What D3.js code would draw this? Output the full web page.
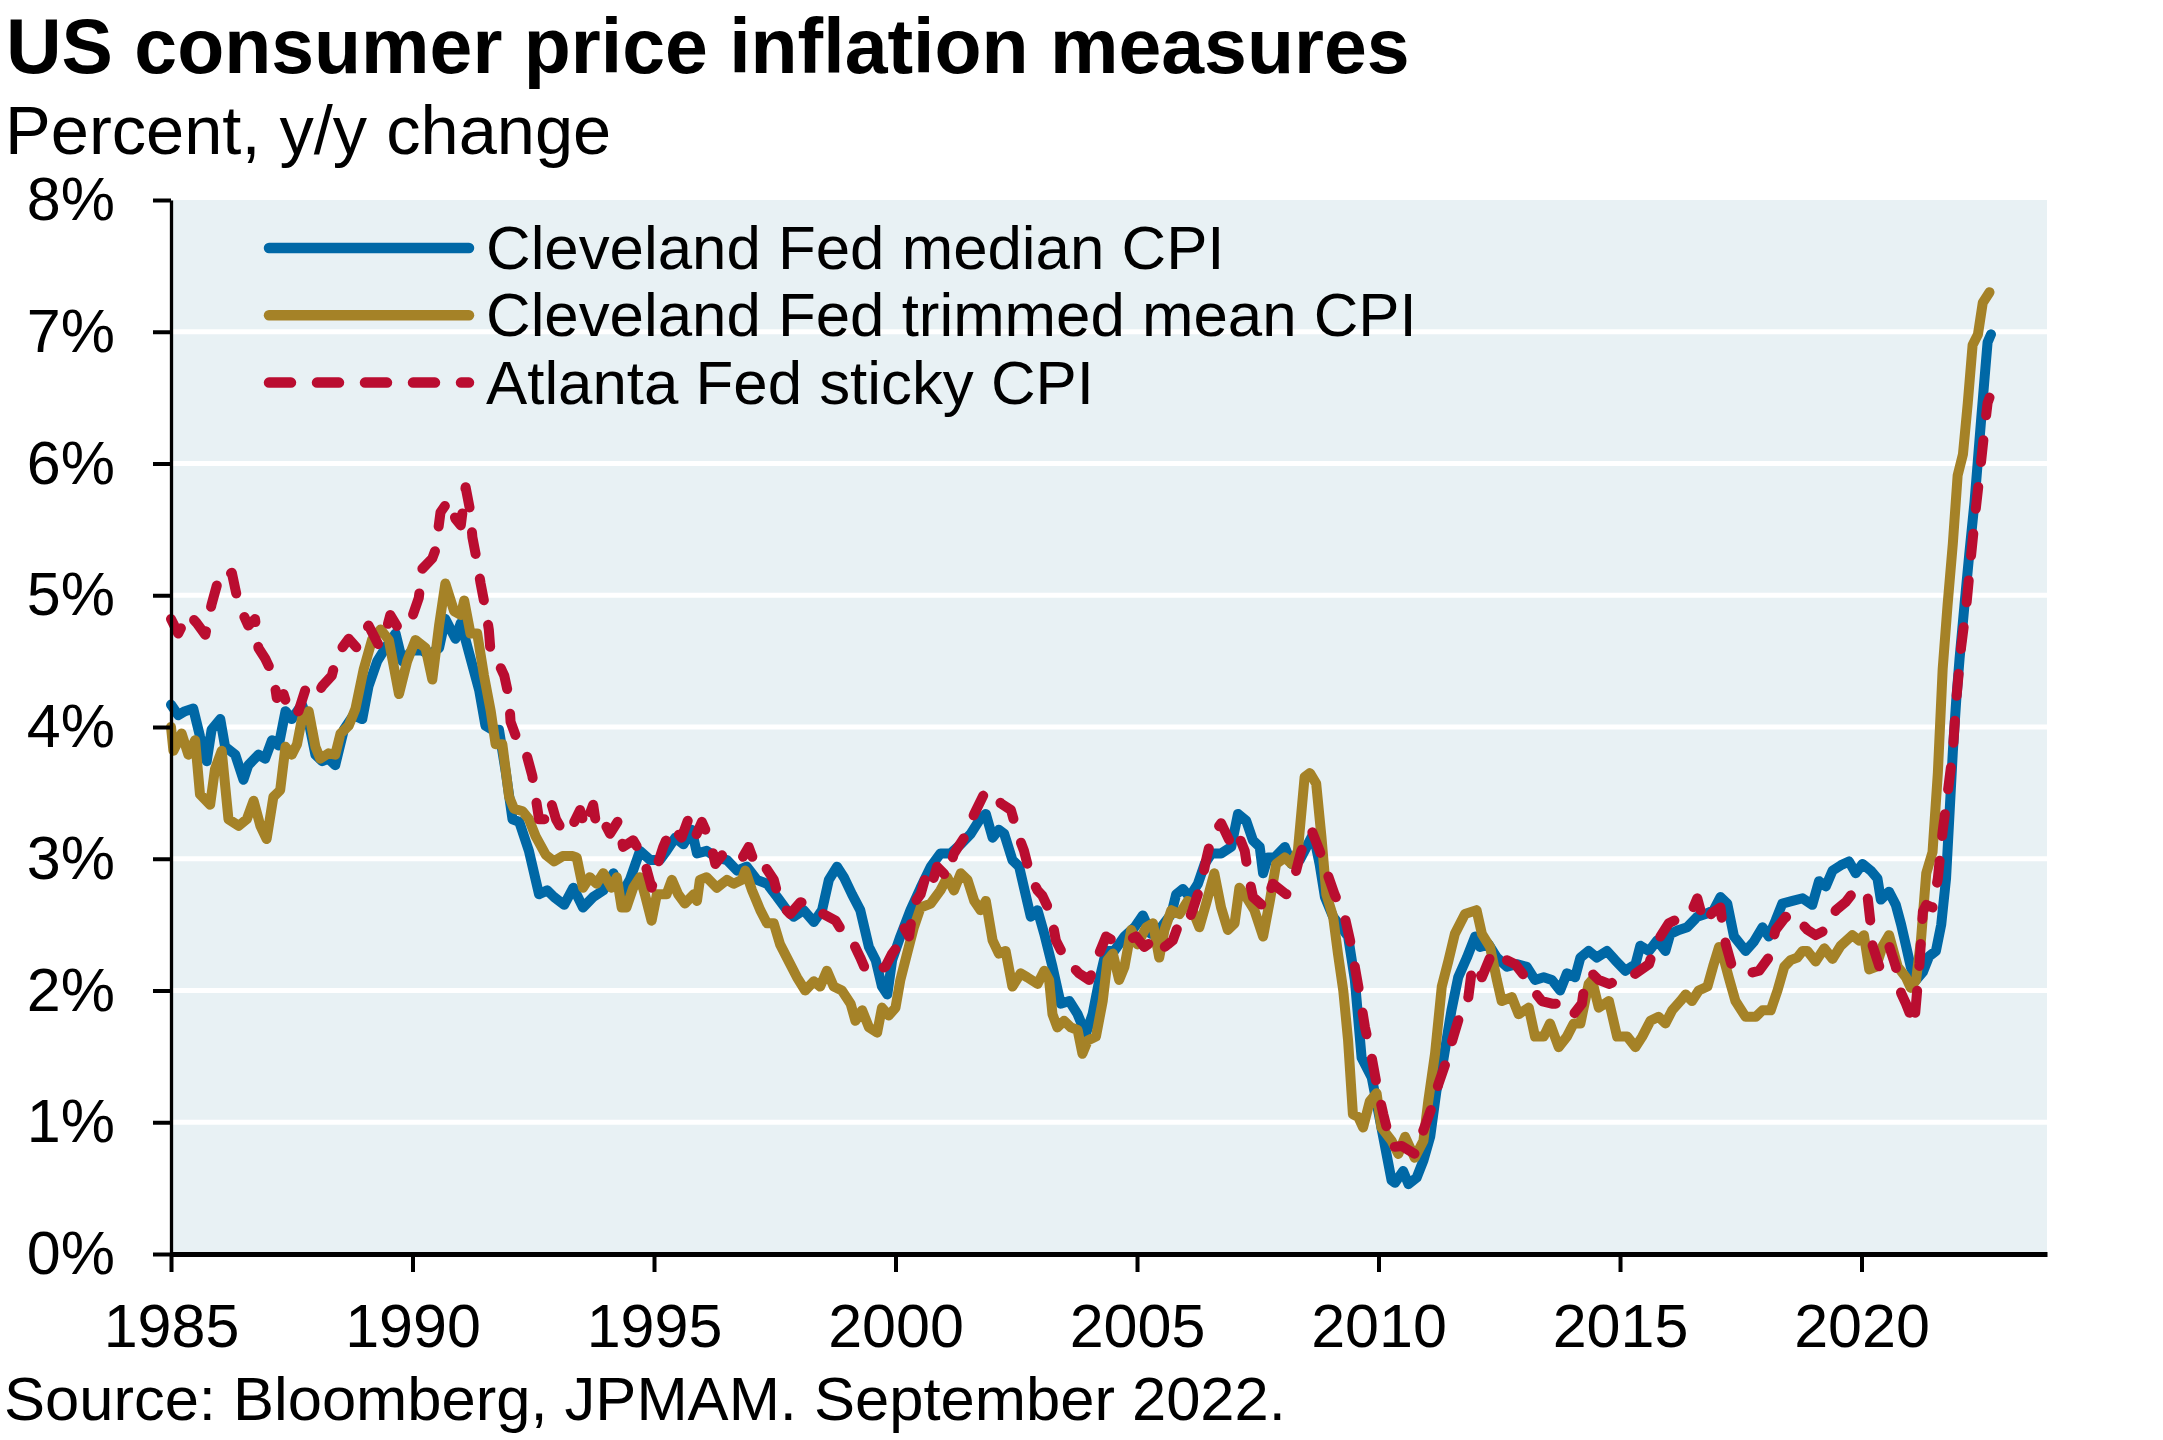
<!DOCTYPE html>
<html>
<head>
<meta charset="utf-8">
<script src="https://d3js.org/d3.v7.min.js"></script>
<style>
  body { margin: 0; background: #ffffff; }
  svg { display: block; font-family: "Liberation Sans", Arial, sans-serif; }
</style>
</head>
<body>
<script>
const svgWidth = 2163
const svgHeight = 1440

const margin = {
    top: 200,
    right: 116,
    bottom: 186,
    left: 171
  }

const chartWidth = svgWidth - margin.left - margin.right
const chartHeight = svgHeight - margin.top - margin.bottom

// values, [decimal year, percent y/y]
const medianCPI = [
  [1985.00,4.17],[1985.15,4.09],[1985.29,4.12],[1985.46,4.14],[1985.60,3.93],[1985.74,3.74],[1985.84,3.98],[1986.02,4.06],
  [1986.12,3.85],[1986.33,3.79],[1986.50,3.60],[1986.60,3.71],[1986.81,3.79],[1986.95,3.76],[1987.09,3.90],[1987.23,3.86],
  [1987.37,4.12],[1987.50,4.06],[1987.71,4.17],[1987.85,4.04],[1987.99,3.79],[1988.13,3.74],[1988.26,3.76],[1988.40,3.71],
  [1988.58,3.98],[1988.78,4.09],[1988.96,4.06],[1989.09,4.31],[1989.27,4.50],[1989.44,4.60],[1989.65,4.71],[1989.79,4.50],
  [1989.99,4.58],[1990.20,4.58],[1990.34,4.55],[1990.55,4.60],[1990.68,4.82],[1990.89,4.67],[1991.00,4.79],[1991.10,4.66],
  [1991.24,4.47],[1991.38,4.28],[1991.51,4.01],[1991.65,3.98],[1991.79,3.98],[1991.93,3.66],[1992.07,3.30],[1992.21,3.28],
  [1992.41,3.06],[1992.62,2.73],[1992.79,2.76],[1992.93,2.71],[1993.14,2.65],[1993.33,2.78],[1993.53,2.63],[1993.74,2.71],
  [1993.95,2.76],[1994.16,2.89],[1994.33,2.73],[1994.50,2.84],[1994.71,3.06],[1994.92,2.99],[1995.12,2.99],[1995.26,3.06],
  [1995.44,3.16],[1995.61,3.11],[1995.78,3.22],[1995.89,3.04],[1996.09,3.06],[1996.30,3.01],[1996.51,2.99],[1996.72,2.91],
  [1996.92,2.94],[1997.13,2.84],[1997.34,2.81],[1997.55,2.71],[1997.75,2.61],[1997.89,2.56],[1998.10,2.61],[1998.31,2.52],
  [1998.48,2.61],[1998.62,2.84],[1998.79,2.94],[1998.93,2.86],[1999.10,2.73],[1999.27,2.61],[1999.45,2.33],[1999.59,2.23],
  [1999.72,2.03],[1999.83,1.97],[1999.93,2.23],[2000.10,2.41],[2000.31,2.61],[2000.52,2.78],[2000.73,2.94],[2000.93,3.04],
  [2001.14,3.04],[2001.35,3.11],[2001.56,3.19],[2001.73,3.29],[2001.87,3.34],[2002.01,3.16],[2002.14,3.22],[2002.25,3.19],
  [2002.42,2.99],[2002.56,2.94],[2002.66,2.78],[2002.80,2.56],[2002.94,2.61],[2003.08,2.43],[2003.25,2.18],[2003.42,1.90],
  [2003.60,1.92],[2003.77,1.82],[2003.94,1.67],[2004.08,1.82],[2004.22,2.08],[2004.36,2.30],[2004.53,2.30],[2004.74,2.41],
  [2004.95,2.48],[2005.12,2.57],[2005.29,2.43],[2005.50,2.48],[2005.71,2.58],[2005.81,2.73],[2005.95,2.77],[2006.09,2.71],
  [2006.26,2.81],[2006.40,2.96],[2006.54,3.04],[2006.74,3.04],[2006.95,3.09],[2007.09,3.34],[2007.26,3.29],[2007.40,3.14],
  [2007.54,3.09],[2007.61,2.89],[2007.71,3.01],[2007.85,3.01],[2008.06,3.09],[2008.20,2.96],[2008.37,2.99],[2008.51,3.09],
  [2008.65,3.19],[2008.78,2.96],[2008.89,2.71],[2009.06,2.56],[2009.23,2.48],[2009.37,2.41],[2009.51,2.08],[2009.65,1.49],
  [2009.86,1.34],[2010.06,0.96],[2010.27,0.56],[2010.34,0.54],[2010.51,0.63],[2010.62,0.53],[2010.79,0.58],[2010.93,0.71],
  [2011.07,0.89],[2011.20,1.24],[2011.34,1.47],[2011.51,1.85],[2011.65,2.10],[2011.83,2.25],[2012.00,2.41],[2012.10,2.33],
  [2012.28,2.35],[2012.45,2.25],[2012.66,2.18],[2012.86,2.20],[2013.07,2.18],[2013.24,2.08],[2013.42,2.10],[2013.59,2.08],
  [2013.76,2.00],[2013.90,2.13],[2014.07,2.10],[2014.18,2.25],[2014.35,2.30],[2014.52,2.25],[2014.73,2.30],[2014.90,2.23],
  [2015.11,2.15],[2015.32,2.20],[2015.42,2.34],[2015.60,2.30],[2015.77,2.38],[2015.94,2.30],[2016.04,2.43],[2016.22,2.46],
  [2016.39,2.48],[2016.60,2.56],[2016.77,2.58],[2016.94,2.61],[2017.08,2.71],[2017.22,2.66],[2017.36,2.41],[2017.60,2.30],
  [2017.77,2.37],[2017.95,2.48],[2018.08,2.41],[2018.22,2.53],[2018.36,2.66],[2018.57,2.68],[2018.78,2.70],[2018.98,2.65],
  [2019.12,2.83],[2019.26,2.79],[2019.40,2.91],[2019.57,2.95],[2019.74,2.98],[2019.88,2.89],[2020.02,2.96],[2020.19,2.91],
  [2020.33,2.85],[2020.40,2.69],[2020.57,2.75],[2020.71,2.65],[2020.82,2.50],[2020.92,2.34],[2021.02,2.18],[2021.13,2.08],
  [2021.27,2.14],[2021.40,2.26],[2021.54,2.30],[2021.65,2.50],[2021.75,2.85],[2021.82,3.33],[2021.89,3.81],[2021.96,4.20],
  [2022.03,4.52],[2022.13,4.92],[2022.23,5.31],[2022.34,5.71],[2022.41,6.03],[2022.48,6.35],[2022.55,6.66],[2022.61,6.92],
  [2022.68,6.98]
]

const trimmedMeanCPI = [
  [1985.00,4.00],[1985.05,3.82],[1985.22,3.95],[1985.36,3.79],[1985.50,3.90],[1985.60,3.49],[1985.81,3.41],[1985.91,3.68],
  [1986.05,3.82],[1986.19,3.30],[1986.40,3.25],[1986.57,3.30],[1986.71,3.44],[1986.85,3.25],[1986.98,3.15],[1987.12,3.47],
  [1987.26,3.52],[1987.37,3.85],[1987.50,3.79],[1987.61,3.87],[1987.71,4.06],[1987.85,4.12],[1987.99,3.85],[1988.09,3.76],
  [1988.26,3.80],[1988.40,3.79],[1988.51,3.95],[1988.68,4.01],[1988.82,4.14],[1988.99,4.44],[1989.16,4.66],[1989.34,4.74],
  [1989.51,4.66],[1989.72,4.25],[1989.89,4.50],[1990.06,4.66],[1990.27,4.60],[1990.41,4.36],[1990.55,4.77],[1990.68,5.09],
  [1990.86,4.88],[1991.00,4.85],[1991.07,4.96],[1991.20,4.71],[1991.34,4.71],[1991.48,4.39],[1991.62,4.12],[1991.72,3.87],
  [1991.86,3.87],[1992.00,3.47],[1992.10,3.38],[1992.28,3.36],[1992.41,3.30],[1992.55,3.17],[1992.76,3.03],[1992.93,2.98],
  [1993.11,3.02],[1993.31,3.02],[1993.40,3.01],[1993.53,2.78],[1993.67,2.86],[1993.81,2.81],[1993.95,2.89],[1994.12,2.78],
  [1994.23,2.86],[1994.33,2.63],[1994.43,2.63],[1994.57,2.78],[1994.71,2.86],[1994.81,2.73],[1994.95,2.53],[1995.06,2.73],
  [1995.26,2.73],[1995.37,2.84],[1995.50,2.73],[1995.64,2.66],[1995.82,2.73],[1995.89,2.68],[1995.95,2.84],[1996.09,2.86],
  [1996.30,2.78],[1996.51,2.84],[1996.65,2.81],[1996.82,2.84],[1996.89,2.91],[1997.03,2.76],[1997.20,2.61],[1997.34,2.51],
  [1997.48,2.51],[1997.61,2.35],[1997.82,2.20],[1997.96,2.10],[1998.13,2.00],[1998.31,2.07],[1998.44,2.03],[1998.58,2.15],
  [1998.72,2.03],[1998.89,2.00],[1999.07,1.90],[1999.17,1.77],[1999.31,1.85],[1999.45,1.72],[1999.62,1.68],[1999.72,1.87],
  [1999.86,1.81],[2000.00,1.87],[2000.10,2.08],[2000.24,2.28],[2000.38,2.48],[2000.52,2.63],[2000.73,2.66],[2000.93,2.76],
  [2001.07,2.86],[2001.21,2.76],[2001.35,2.89],[2001.49,2.84],[2001.63,2.68],[2001.76,2.61],[2001.87,2.68],[2002.01,2.38],
  [2002.14,2.28],[2002.28,2.30],[2002.42,2.03],[2002.59,2.13],[2002.73,2.10],[2002.94,2.05],[2003.08,2.15],[2003.18,2.08],
  [2003.25,1.82],[2003.35,1.72],[2003.49,1.77],[2003.63,1.72],[2003.77,1.70],[2003.87,1.52],[2003.98,1.62],[2004.15,1.65],
  [2004.29,1.92],[2004.39,2.23],[2004.50,2.28],[2004.63,2.08],[2004.74,2.18],[2004.88,2.46],[2005.01,2.35],[2005.19,2.48],
  [2005.33,2.51],[2005.46,2.25],[2005.57,2.46],[2005.71,2.61],[2005.88,2.58],[2006.05,2.68],[2006.15,2.61],[2006.29,2.48],
  [2006.43,2.66],[2006.60,2.89],[2006.74,2.63],[2006.88,2.46],[2007.02,2.51],[2007.12,2.78],[2007.26,2.71],[2007.43,2.61],
  [2007.61,2.41],[2007.75,2.68],[2007.88,2.96],[2008.06,3.01],[2008.20,2.96],[2008.33,3.06],[2008.47,3.62],[2008.58,3.65],
  [2008.71,3.57],[2008.82,3.16],[2008.92,2.73],[2009.06,2.56],[2009.16,2.28],[2009.27,2.00],[2009.37,1.62],[2009.47,1.06],
  [2009.58,1.04],[2009.68,0.96],[2009.82,1.16],[2009.96,1.22],[2010.06,0.96],[2010.27,0.86],[2010.41,0.76],[2010.55,0.89],
  [2010.75,0.73],[2010.93,0.86],[2011.03,1.16],[2011.17,1.52],[2011.31,2.03],[2011.45,2.23],[2011.58,2.43],[2011.79,2.58],
  [2012.03,2.61],[2012.14,2.43],[2012.31,2.33],[2012.45,2.08],[2012.55,1.92],[2012.76,1.95],[2012.90,1.82],[2013.11,1.87],
  [2013.24,1.65],[2013.42,1.65],[2013.55,1.75],[2013.73,1.57],[2013.90,1.65],[2014.04,1.75],[2014.18,1.75],[2014.35,2.05],
  [2014.42,2.08],[2014.56,1.87],[2014.77,1.92],[2014.94,1.65],[2015.15,1.65],[2015.32,1.57],[2015.46,1.65],[2015.63,1.77],
  [2015.80,1.80],[2015.94,1.75],[2016.08,1.85],[2016.25,1.92],[2016.36,1.97],[2016.49,1.92],[2016.63,2.00],[2016.81,2.03],
  [2016.94,2.20],[2017.05,2.33],[2017.12,2.28],[2017.25,2.10],[2017.39,1.92],[2017.60,1.80],[2017.81,1.80],[2017.95,1.85],
  [2018.12,1.85],[2018.26,2.00],[2018.40,2.18],[2018.53,2.23],[2018.67,2.25],[2018.78,2.30],[2018.88,2.30],[2019.05,2.22],
  [2019.23,2.32],[2019.40,2.24],[2019.57,2.34],[2019.81,2.42],[2019.95,2.38],[2020.05,2.42],[2020.16,2.16],[2020.30,2.18],
  [2020.44,2.34],[2020.57,2.42],[2020.75,2.18],[2020.92,2.10],[2021.02,2.02],[2021.13,2.08],[2021.23,2.38],[2021.34,2.89],
  [2021.47,3.05],[2021.58,3.65],[2021.68,4.44],[2021.78,4.92],[2021.89,5.39],[2021.99,5.91],[2022.10,6.07],[2022.20,6.46],
  [2022.30,6.90],[2022.41,6.98],[2022.51,7.22],[2022.65,7.30]
]

const stickyCPI = [
  [1985.00,4.82],[1985.15,4.71],[1985.36,4.86],[1985.53,4.79],[1985.71,4.70],[1985.84,4.93],[1986.02,5.17],[1986.15,5.15],
  [1986.26,5.17],[1986.40,4.93],[1986.60,4.77],[1986.74,4.82],[1986.81,4.60],[1986.95,4.52],[1987.12,4.39],[1987.19,4.22],
  [1987.33,4.25],[1987.47,4.09],[1987.64,4.12],[1987.78,4.28],[1987.99,4.22],[1988.13,4.31],[1988.33,4.39],[1988.44,4.55],
  [1988.68,4.67],[1988.85,4.60],[1989.09,4.77],[1989.30,4.62],[1989.44,4.71],[1989.54,4.85],[1989.72,4.74],[1989.99,4.83],
  [1990.13,4.98],[1990.20,5.20],[1990.41,5.28],[1990.48,5.35],[1990.58,5.63],[1990.75,5.72],[1990.89,5.58],[1991.00,5.53],
  [1991.10,5.82],[1991.20,5.63],[1991.24,5.44],[1991.34,5.25],[1991.41,5.09],[1991.51,4.90],[1991.58,4.74],[1991.62,4.55],
  [1991.76,4.50],[1991.90,4.39],[1992.00,4.22],[1992.03,4.04],[1992.14,3.93],[1992.34,3.82],[1992.48,3.63],[1992.62,3.30],
  [1992.76,3.30],[1992.86,3.44],[1992.97,3.30],[1993.14,3.19],[1993.31,3.25],[1993.47,3.37],[1993.57,3.24],[1993.74,3.41],
  [1993.81,3.24],[1993.95,3.29],[1994.09,3.19],[1994.26,3.29],[1994.36,3.09],[1994.57,3.14],[1994.78,3.01],[1994.95,2.78],
  [1995.06,2.94],[1995.19,3.09],[1995.37,3.24],[1995.57,3.16],[1995.71,3.30],[1995.85,3.16],[1995.99,3.28],[1996.16,3.14],
  [1996.27,2.96],[1996.44,3.04],[1996.61,3.05],[1996.82,3.00],[1996.96,3.09],[1997.06,2.99],[1997.20,2.91],[1997.30,2.94],
  [1997.48,2.84],[1997.61,2.66],[1997.82,2.58],[1998.03,2.67],[1998.20,2.66],[1998.38,2.61],[1998.51,2.58],[1998.76,2.53],
  [1998.93,2.43],[1999.10,2.38],[1999.27,2.25],[1999.41,2.13],[1999.55,2.15],[1999.79,2.18],[1999.93,2.28],[2000.03,2.33],
  [2000.17,2.48],[2000.28,2.41],[2000.38,2.66],[2000.52,2.73],[2000.62,2.86],[2000.73,2.78],[2000.86,2.94],[2001.07,2.86],
  [2001.21,3.04],[2001.42,3.16],[2001.63,3.34],[2001.83,3.49],[2002.04,3.51],[2002.18,3.42],[2002.39,3.37],[2002.52,3.20],
  [2002.66,3.06],[2002.80,2.86],[2002.94,2.76],[2003.04,2.72],[2003.22,2.58],[2003.32,2.38],[2003.53,2.23],[2003.67,2.18],
  [2003.80,2.13],[2004.01,2.08],[2004.18,2.25],[2004.36,2.41],[2004.50,2.38],[2004.63,2.35],[2004.98,2.41],[2005.15,2.33],
  [2005.33,2.38],[2005.46,2.30],[2005.64,2.35],[2005.74,2.38],[2005.88,2.52],[2006.05,2.51],[2006.15,2.61],[2006.33,2.81],
  [2006.43,2.99],[2006.54,3.16],[2006.74,3.27],[2006.95,3.11],[2007.09,3.19],[2007.23,3.06],[2007.30,2.89],[2007.40,2.71],
  [2007.64,2.63],[2007.81,2.81],[2008.09,2.73],[2008.26,2.86],[2008.40,3.06],[2008.61,3.22],[2008.78,3.06],[2008.92,2.91],
  [2009.09,2.73],[2009.30,2.56],[2009.41,2.38],[2009.51,2.18],[2009.61,1.97],[2009.72,1.72],[2009.86,1.49],[2009.96,1.29],
  [2010.10,1.06],[2010.27,0.81],[2010.48,0.82],[2010.75,0.76],[2010.93,0.94],[2011.10,1.11],[2011.24,1.29],[2011.41,1.47],
  [2011.55,1.65],[2011.69,1.82],[2011.86,1.95],[2011.93,2.15],[2012.03,2.20],[2012.14,2.10],[2012.31,2.25],[2012.52,2.30],
  [2012.66,2.23],[2012.83,2.20],[2013.04,2.10],[2013.21,2.00],[2013.38,1.92],[2013.59,1.90],[2013.90,1.90],[2014.04,1.82],
  [2014.21,1.90],[2014.28,2.08],[2014.42,2.13],[2014.56,2.08],[2014.77,2.05],[2015.01,2.08],[2015.21,2.10],[2015.60,2.20],
  [2015.73,2.35],[2016.01,2.51],[2016.29,2.56],[2016.46,2.58],[2016.60,2.70],[2016.74,2.51],[2016.91,2.59],[2017.08,2.63],
  [2017.12,2.51],[2017.19,2.35],[2017.32,2.18],[2017.67,2.13],[2017.88,2.15],[2018.08,2.25],[2018.22,2.46],[2018.43,2.56],
  [2018.57,2.48],[2018.78,2.50],[2018.88,2.46],[2019.05,2.42],[2019.26,2.46],[2019.47,2.61],[2019.67,2.67],[2019.88,2.77],
  [2020.12,2.73],[2020.19,2.50],[2020.23,2.34],[2020.37,2.18],[2020.57,2.34],[2020.71,2.18],[2020.82,1.98],[2020.92,1.90],
  [2021.09,1.74],[2021.20,2.20],[2021.27,2.60],[2021.34,2.65],[2021.47,2.63],[2021.58,2.85],[2021.68,3.21],[2021.78,3.49],
  [2021.89,3.81],[2021.96,4.20],[2022.06,4.60],[2022.17,4.92],[2022.27,5.31],[2022.37,5.67],[2022.48,6.03],[2022.55,6.27],
  [2022.61,6.46],[2022.65,6.50]
]

const seriesNames = ["Cleveland Fed median CPI", "Cleveland Fed trimmed mean CPI", "Atlanta Fed sticky CPI"]
const yTicks = [0, 1, 2, 3, 4, 5, 6, 7, 8]
const xTicks = [1985, 1990, 1995, 2000, 2005, 2010, 2015, 2020]

const colors = ["#0068a6", "#a58227", "#ba0d30"]
const dashes = [null, null, "22,25"]

const svg = d3.select("body").append("svg")
  .attr("width", svgWidth)
  .attr("height", svgHeight)

svg.append("rect")
  .attr("width", svgWidth)
  .attr("height", svgHeight)
  .attr("fill", "#ffffff")

const chartG = svg.append("g")
  .attr("transform", `translate(${margin.left}, ${margin.top})`)

const x = d3.scaleLinear()
  .domain([1985, 2023.84])
  .range([0, chartWidth])

const y = d3.scaleLinear()
  .domain([0, 8])
  .range([chartHeight, 0])

// plot panel and white grid
chartG.append("rect")
  .attr("width", chartWidth)
  .attr("height", chartHeight)
  .attr("fill", "#e8f1f4")

chartG.append("g")
  .selectAll("line")
  .data(yTicks.filter(d => d > 0 && d < 8))
  .enter()
  .append("line")
  .attr("x1", 0)
  .attr("x2", chartWidth)
  .attr("y1", d => y(d))
  .attr("y2", d => y(d))
  .attr("stroke", "#ffffff")
  .attr("stroke-width", 5)

// series
const line = d3.line()
  .x(d => x(d[0]))
  .y(d => y(d[1]))

const allSeries = [medianCPI, trimmedMeanCPI, stickyCPI]

allSeries.forEach((data, i) => {
  chartG.append("path")
    .datum(data)
    .attr("d", line)
    .attr("fill", "none")
    .attr("stroke", colors[i])
    .attr("stroke-width", 10)
    .attr("stroke-linejoin", "round")
    .attr("stroke-linecap", "round")
    .attr("stroke-dasharray", dashes[i])
})

// axes
const yAxis = d3.axisLeft(y)
  .tickValues(yTicks)
  .tickFormat(d => d + "%")
  .tickSize(18)
  .tickSizeOuter(0)
  .tickPadding(38)

const xAxis = d3.axisBottom(x)
  .tickValues(xTicks)
  .tickFormat(d3.format("d"))
  .tickSize(18)
  .tickSizeOuter(0)
  .tickPadding(32)

const yAxisG = chartG.append("g")
  .call(yAxis)

yAxisG.select(".domain")
  .attr("stroke", "#000000")
  .attr("stroke-width", 3.3)

const xAxisG = chartG.append("g")
  .attr("transform", `translate(0, ${chartHeight})`)
  .call(xAxis)

xAxisG.select(".domain")
  .attr("stroke", "#000000")
  .attr("stroke-width", 5)

chartG.selectAll(".tick line")
  .attr("stroke", "#000000")
  .attr("stroke-width", 4)

chartG.selectAll(".tick text")
  .attr("fill", "#000000")
  .style("font-size", "61px")
  .style("font-family", "\"Liberation Sans\", Arial, sans-serif")

// legend
const legendG = chartG.append("g")
  .attr("transform", "translate(98, 48)")

seriesNames.forEach((name, i) => {
  const row = legendG.append("g")
    .attr("transform", `translate(0, ${i * 67.3})`)

  row.append("line")
    .attr("x1", 0)
    .attr("x2", 200)
    .attr("stroke", colors[i])
    .attr("stroke-width", 10.5)
    .attr("stroke-linecap", "round")
    .attr("stroke-dasharray", i === 2 ? "22,26" : null)

  row.append("text")
    .attr("x", 217)
    .attr("y", 21)
    .attr("fill", "#000000")
    .style("font-size", "61.8px")
    .text(name)
})

// titles
svg.append("text")
  .attr("x", 6)
  .attr("y", 73)
  .attr("fill", "#000000")
  .style("font-size", "77px")
  .style("font-weight", "bold")
  .text("US consumer price inflation measures")

svg.append("text")
  .attr("x", 5)
  .attr("y", 154)
  .attr("fill", "#000000")
  .style("font-size", "68.6px")
  .text("Percent, y/y change")

svg.append("text")
  .attr("x", 4)
  .attr("y", 1420)
  .attr("fill", "#000000")
  .style("font-size", "61.5px")
  .text("Source: Bloomberg, JPMAM. September 2022.")
</script>
</body>
</html>
